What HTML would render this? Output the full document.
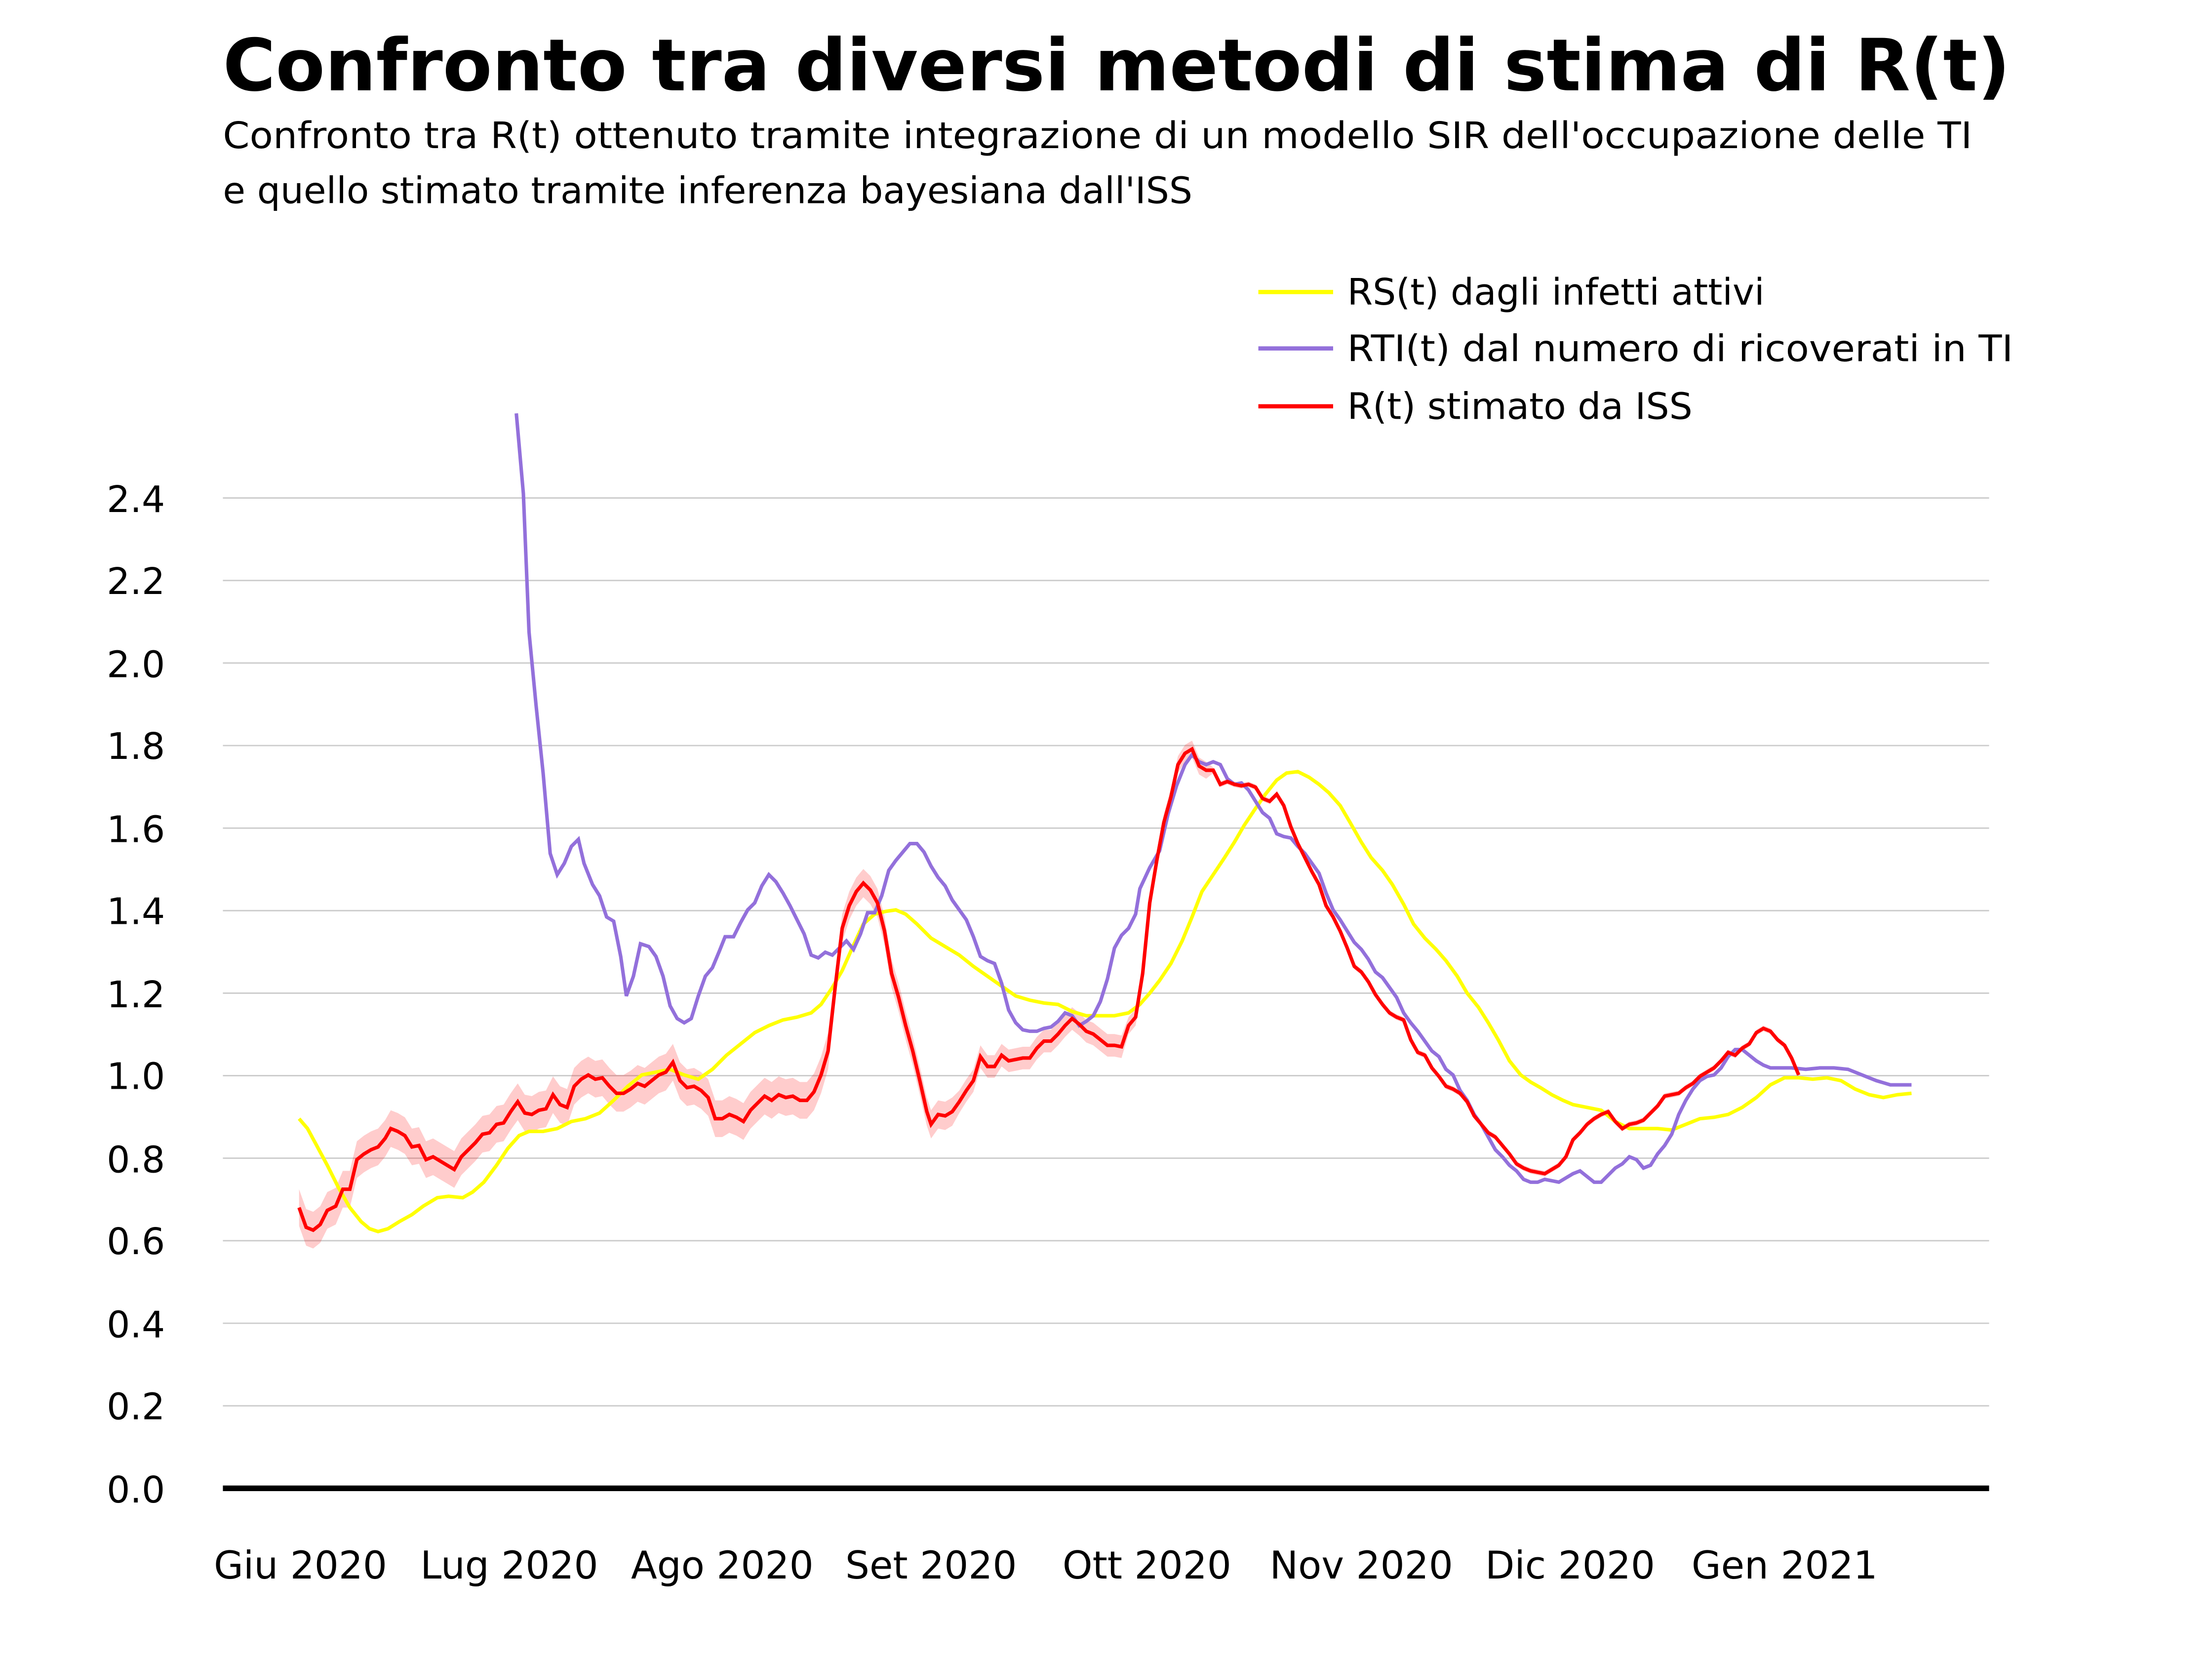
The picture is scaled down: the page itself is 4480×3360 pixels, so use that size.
<!DOCTYPE html>
<html><head><meta charset="utf-8"><style>html,body{margin:0;padding:0;background:#fff}svg{display:block}</style></head>
<body>
<svg id="s" xmlns="http://www.w3.org/2000/svg" width="4480" height="3360" viewBox="0 0 1568 1176" font-family="DejaVu Sans, Liberation Sans, sans-serif">
<rect width="1568" height="1176" fill="#fff"/>
<text x="158" y="64" font-size="51" font-weight="bold" textLength="1267" lengthAdjust="spacingAndGlyphs">Confronto tra diversi metodi di stima di R(t)</text>
<text x="158" y="105" font-size="26" textLength="1240" lengthAdjust="spacingAndGlyphs">Confronto tra R(t) ottenuto tramite integrazione di un modello SIR dell'occupazione delle TI</text>
<text x="158" y="144" font-size="26">e quello stimato tramite inferenza bayesiana dall'ISS</text>
<g stroke="#cccccc" stroke-width="1">
<line x1="158" x2="1410" y1="996.5" y2="996.5"/><line x1="158" x2="1410" y1="938" y2="938"/>
<line x1="158" x2="1410" y1="879.5" y2="879.5"/><line x1="158" x2="1410" y1="821" y2="821"/>
<line x1="158" x2="1410" y1="762.5" y2="762.5"/><line x1="158" x2="1410" y1="704" y2="704"/>
<line x1="158" x2="1410" y1="645.5" y2="645.5"/><line x1="158" x2="1410" y1="587" y2="587"/>
<line x1="158" x2="1410" y1="528.5" y2="528.5"/><line x1="158" x2="1410" y1="470" y2="470"/>
<line x1="158" x2="1410" y1="411.5" y2="411.5"/><line x1="158" x2="1410" y1="353" y2="353"/>
</g>
<g font-size="26" text-anchor="end">
<text x="117" y="1065">0.0</text><text x="117" y="1006">0.2</text><text x="117" y="948">0.4</text>
<text x="117" y="889">0.6</text><text x="117" y="831">0.8</text><text x="117" y="772">1.0</text>
<text x="117" y="714">1.2</text><text x="117" y="655">1.4</text><text x="117" y="597">1.6</text>
<text x="117" y="538">1.8</text><text x="117" y="480">2.0</text><text x="117" y="421">2.2</text>
<text x="117" y="363">2.4</text>
</g>
<g font-size="27" text-anchor="middle">
<text x="213" y="1119">Giu 2020</text><text x="361" y="1119">Lug 2020</text><text x="512" y="1119">Ago 2020</text>
<text x="660" y="1119">Set 2020</text><text x="813" y="1119">Ott 2020</text><text x="965" y="1119">Nov 2020</text>
<text x="1113" y="1119">Dic 2020</text><text x="1265" y="1119">Gen 2021</text>
</g>
<polygon id="band" fill="#ff0000" fill-opacity="0.2" stroke="none"/>
<polyline fill="none" stroke="#ffff00" stroke-width="2.5" points="212,793 218,800 225,813 232,826 240,842 248,856 256,866 262,871 268,873 275,871 283,866 292,861 300,855 310,849 318,848 328,849 335,845 343,838 352,826 360,814 368,805 375,802 385,802 395,800 405,795 415,793 425,789 435,780 445,770 455,762 465,760 475,758 485,762 495,765 505,758 515,748 525,740 535,732 545,727 555,723 565,721 575,718 582,712 590,700 597,688 605,670 612,655 620,648 628,646 635,645 642,648 650,655 660,665 670,671 680,677 690,685 700,692 710,699 720,706 730,709 740,711 750,712 760,717 770,720 780,720 790,720 800,718 808,712 815,704 822,695 830,683 838,667 845,650 852,632 860,620 868,608 875,597 882,585 890,573 897,563 905,553 912,548 920,547 928,551 935,556 942,562 950,571 957,583 965,597 972,608 980,617 987,627 995,641 1002,655 1010,665 1018,673 1025,681 1033,692 1040,704 1048,714 1055,725 1062,737 1070,752 1078,762 1085,767 1092,771 1100,776 1108,780 1115,783 1125,785 1135,787 1145,795 1155,800 1165,800 1175,800 1185,801 1195,797 1205,793 1215,792 1225,790 1235,785 1245,778 1255,769 1265,764 1275,764 1285,765 1295,764 1305,766 1315,772 1325,776 1335,778 1345,776 1355,775"/>
<polyline fill="none" stroke="#9370db" stroke-width="2.5" points="366,293 371,350 375,448 380,500 385,548 390,605 395,620 400,612 405,600 410,595 414,612 420,627 425,635 430,650 435,653 440,678 444,706 449,692 454,669 460,671 465,678 470,692 475,713 480,722 485,725 490,722 495,706 500,692 505,686 510,674 514,664 520,664 525,654 530,645 535,640 540,628 545,620 550,625 555,633 560,642 565,652 570,662 575,677 580,679 585,675 590,677 595,672 600,667 605,673 610,662 615,647 620,647 625,635 630,617 635,610 640,604 645,598 650,598 655,604 660,614 665,622 670,628 675,638 680,645 685,652 690,664 695,678 700,681 705,683 710,697 715,716 720,725 725,730 730,731 735,731 740,729 745,728 750,724 755,718 760,720 765,727 770,724 775,720 780,710 785,694 790,672 795,663 800,658 805,648 808,630 815,615 822,603 828,577 834,557 840,542 845,535 850,540 855,542 860,540 865,542 870,552 875,556 880,555 885,560 890,568 895,576 900,580 905,591 910,593 915,594 920,600 925,605 930,612 935,619 940,633 945,645 950,652 955,660 960,668 965,673 970,680 975,689 980,693 985,700 990,707 995,718 1000,725 1005,731 1010,738 1015,745 1020,749 1025,758 1030,762 1035,773 1040,780 1045,790 1050,797 1055,806 1060,815 1065,820 1070,826 1075,830 1080,836 1085,838 1090,838 1095,836 1100,837 1105,838 1110,835 1115,832 1120,830 1125,834 1130,838 1135,838 1140,833 1145,828 1150,825 1155,820 1160,822 1165,828 1170,826 1175,818 1180,812 1185,804 1190,790 1195,780 1200,772 1205,766 1210,763 1215,762 1220,757 1225,749 1230,744 1235,744 1240,748 1245,752 1250,755 1255,757 1260,757 1270,757 1280,758 1290,757 1300,757 1310,758 1320,762 1330,766 1340,769 1355,769"/>
<polyline id="red" fill="none" stroke="#ff0000" stroke-width="2.5" points="212,856 217,870 222,872 227,868 232,858 238,855 243,843 248,843 253,822 258,818 263,815 268,813 273,807 277,800 282,802 287,805 292,813 297,812 302,822 307,820 312,823 317,826 322,829 327,820 332,815 337,810 342,804 347,803 352,797 357,796 362,788 367,781 372,789 377,790 382,787 387,786 392,776 397,783 402,785 407,770 412,765 417,762 422,765 427,764 432,770 437,775 442,775 447,772 452,768 457,770 462,766 467,762 472,760 477,753 482,766 487,771 492,770 497,773 502,778 507,793 512,793 517,790 522,792 527,795 532,787 537,782 542,777 547,780 552,776 557,778 562,777 567,780 572,780 577,774 582,762 587,745 592,700 597,658 602,642 607,632 612,626 617,631 622,640 627,660 632,690 637,707 642,727 647,745 652,766 657,788 660,797 665,790 670,791 675,788 680,781 685,773 690,766 695,749 700,756 705,756 710,748 715,752 720,751 725,750 730,750 735,743 740,738 745,738 750,733 755,727 760,722 765,726 770,731 775,733 780,737 785,741 790,741 795,742 800,727 805,721 810,690 815,640 820,610 825,583 830,565 835,542 840,534 845,531 850,543 855,546 860,546 865,556 870,554 875,556 880,557 885,556 890,558 895,566 900,568 905,563 910,571 915,586 920,598 925,608 930,618 935,627 940,642 945,650 950,660 955,672 960,685 965,689 970,696 975,705 980,712 985,718 990,721 995,723 1000,737 1005,746 1010,748 1015,757 1020,763 1025,770 1030,772 1035,775 1040,781 1045,791 1050,797 1055,803 1060,806 1065,812 1070,818 1075,825 1080,828 1085,830 1090,831 1095,832 1100,829 1105,826 1110,820 1115,808 1120,803 1125,797 1130,793 1135,790 1140,788 1145,795 1150,800 1155,797 1160,796 1165,794 1170,789 1175,784 1180,777 1185,776 1190,775 1195,771 1200,768 1205,763 1210,760 1215,757 1220,752 1225,746 1230,748 1235,743 1240,740 1245,732 1250,729 1255,731 1260,737 1265,741 1270,750 1275,762"/>
<line x1="158" x2="1410" y1="1055" y2="1055" stroke="#000" stroke-width="4"/>
<line x1="892" x2="945" y1="207" y2="207" stroke="#ffff00" stroke-width="3"/>
<line x1="892" x2="945" y1="247" y2="247" stroke="#9370db" stroke-width="3"/>
<line x1="892" x2="945" y1="288" y2="288" stroke="#ff0000" stroke-width="3"/>
<g font-size="26">
<text x="955" y="216">RS(t) dagli infetti attivi</text>
<text x="955" y="256" textLength="472" lengthAdjust="spacingAndGlyphs">RTI(t) dal numero di ricoverati in TI</text>
<text x="955" y="297">R(t) stimato da ISS</text>
</g>
<script>
var pts=document.getElementById('red').getAttribute('points').trim().split(/\s+/).map(function(p){return p.split(',').map(Number);});
function w(x){if(x<590)return 13;if(x<680)return 10;if(x<800)return 8;if(x<860)return 6;return 2;}
var up=[],dn=[];pts.forEach(function(p){up.push(p[0]+','+(p[1]-w(p[0])));dn.unshift(p[0]+','+(p[1]+w(p[0])));});
document.getElementById('band').setAttribute('points',up.concat(dn).join(' '));
</script>
</svg>
</body></html>
